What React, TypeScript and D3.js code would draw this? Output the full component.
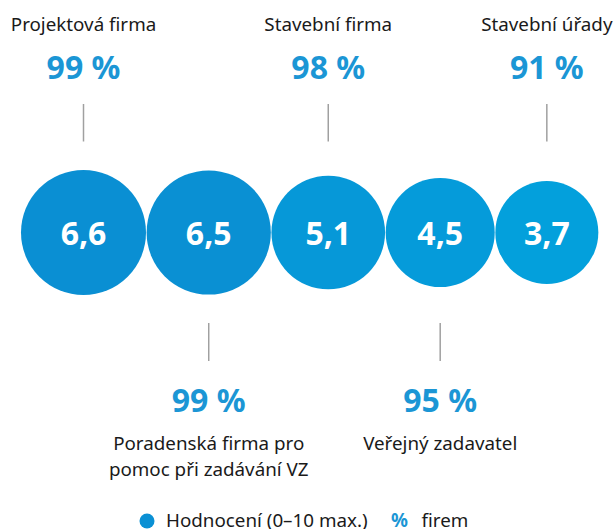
import React from "react";
import * as d3 from "d3";

const categories = ["Projektová firma", "Poradenská firma pro|pomoc při zadávání VZ", "Stavební firma", "Veřejný zadavatel", "Stavební úřady"];
const ratings = [6.6, 6.5, 5.1, 4.5, 3.7];
const percents = [99, 99, 98, 95, 91];
const labelSide = ["top", "bottom", "top", "bottom", "top"];
const legendItems = ["Hodnocení (0–10 max.)", "firem"];

const W = 614;
const H = 529;
const FONT = "'Noto Sans', 'Open Sans', sans-serif";
const LABEL_SIZE = 18.8;
const BIG_SIZE = 32;

export default function App() {
  const rScale = d3.scaleLinear().domain([3.7, 6.6]).range([51.5, 62.5]);
  const color = d3.scaleLinear<string>().domain([3.7, 6.6]).range(["#03a0dc", "#0a8fd3"]);
  const fmt = (v: number) => d3.format(".1f")(v).replace(".", ",");
  const gap = 0.6;
  const cy = 232.5;
  const startX = 21;
  const centers: number[] = [];
  let x = startX;
  ratings.forEach((v, i) => {
    const r = rScale(v);
    if (i === 0) x = startX + r;
    else x = centers[i - 1] + rScale(ratings[i - 1]) + gap + r;
    centers.push(x);
  });

  return (
    <svg width={W} height={H} style={{ position: "absolute", left: 0, top: 0, fontFamily: FONT }}>
      {ratings.map((v, i) => {
        const cx = centers[i];
        const r = rScale(v);
        const top = labelSide[i] === "top";
        const lines = categories[i].split("|");
        return (
          <g key={i}>
            <circle cx={cx} cy={cy} r={r} fill={color(v)} />
            <text x={cx} y={cy + 12} textAnchor="middle" fill="#fff" fontWeight={700} fontSize={BIG_SIZE}>
              {fmt(v)}
            </text>
            {top ? (
              <g>
                <text x={cx} y={31} textAnchor="middle" fill="#1a1a1a" fontSize={LABEL_SIZE}>{lines[0]}</text>
                <text x={cx} y={79} textAnchor="middle" fill="#1b96d5" fontWeight={700} fontSize={BIG_SIZE}>{percents[i]} %</text>
                <line x1={cx} x2={cx} y1={104} y2={141.5} stroke="#a0a0a0" strokeWidth={1.5} />
              </g>
            ) : (
              <g>
                <line x1={cx} x2={cx} y1={323} y2={361} stroke="#a0a0a0" strokeWidth={1.5} />
                <text x={cx} y={411.5} textAnchor="middle" fill="#1b96d5" fontWeight={700} fontSize={BIG_SIZE}>{percents[i]} %</text>
                {lines.map((l, j) => (
                  <text key={j} x={cx} y={450 + j * 25.5} textAnchor="middle" fill="#1a1a1a" fontSize={LABEL_SIZE}>{l}</text>
                ))}
              </g>
            )}
          </g>
        );
      })}
      <g>
        <circle cx={147} cy={521} r={7.5} fill="#0a90d4" />
        <text x={166} y={527} fill="#1a1a1a" fontSize={LABEL_SIZE}>{legendItems[0]}</text>
        <text x={391} y={527} fill="#1b96d5" fontWeight={700} fontSize={LABEL_SIZE}>%</text>
        <text x={421.5} y={527} fill="#1a1a1a" fontSize={LABEL_SIZE}>{legendItems[1]}</text>
      </g>
    </svg>
  );
}
